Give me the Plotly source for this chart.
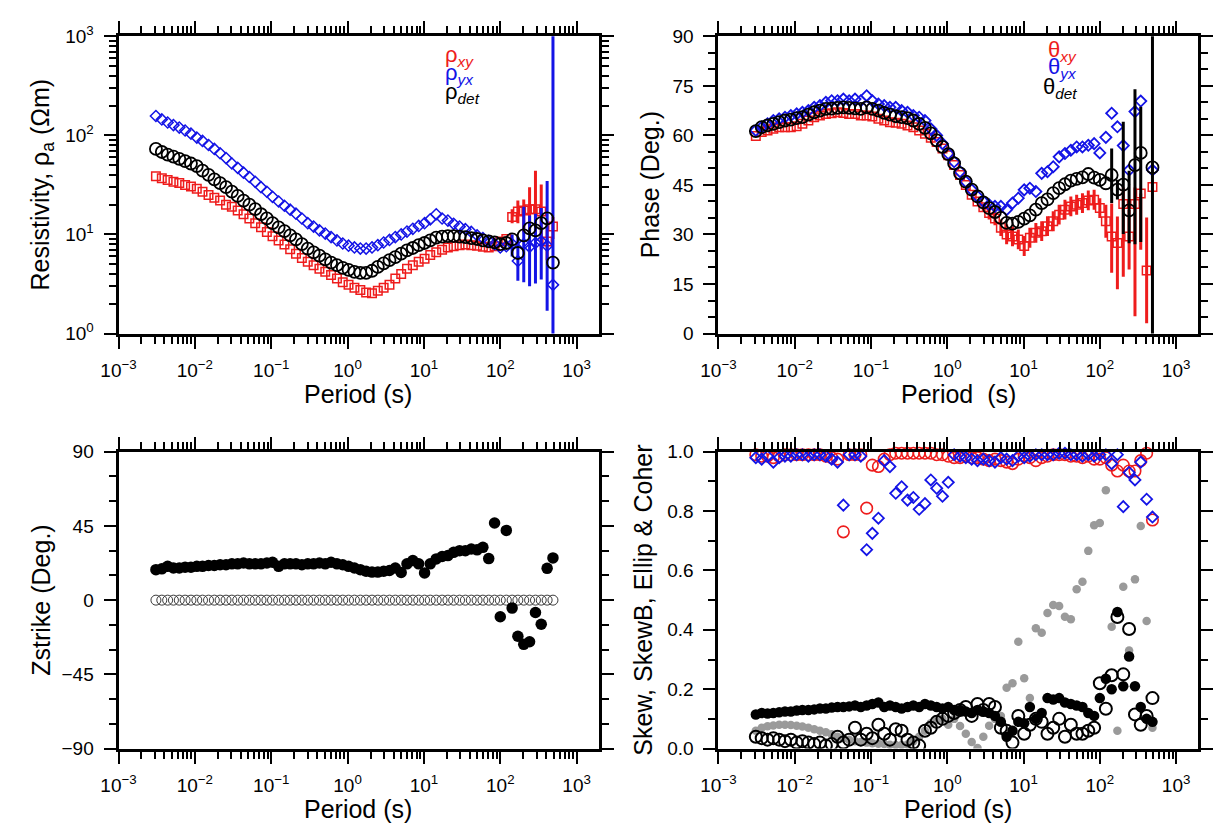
import plotly.graph_objects as go

# ---------------- data ----------------
period = [0.00309, 0.00369, 0.00440, 0.00524, 0.00625, 0.00745, 0.00889, 0.0106, 0.0126, 0.0151,
          0.0180, 0.0214, 0.0256, 0.0305, 0.0364, 0.0434, 0.0517, 0.0617, 0.0735, 0.0877,
          0.104, 0.125, 0.149, 0.177, 0.211, 0.252, 0.301, 0.359, 0.428, 0.510,
          0.608, 0.726, 0.865, 1.03, 1.23, 1.47, 1.75, 2.09, 2.49, 2.97,
          3.54, 4.22, 5.04, 6.00, 7.16, 8.54, 10.2, 12.1, 14.5, 17.3,
          20.6, 24.5, 29.3, 34.9, 41.7, 49.7, 59.2, 70.6, 84.2, 100,
          120, 143, 170, 203, 242, 289, 344, 411, 490]

rho_xy = [38.7, 37, 35.5, 34, 33, 31.5, 30.5, 29, 27, 25,
          23.5, 22, 20, 19, 17.5, 16, 14.5, 13, 11.8, 10.6,
          9.6, 8.7, 7.9, 7.1, 6.4, 5.8, 5.3, 4.9, 4.5, 4.2,
          3.9, 3.6, 3.3, 3.1, 2.9, 2.75, 2.6, 2.55, 2.7, 2.9,
          3.1, 3.6, 4.0, 4.5, 4.9, 5.3, 5.7, 6.2, 6.6, 7.0,
          7.4, 7.6, 7.8, 7.9, 7.8, 7.7, 7.5, 7.4, 7.6, 8.5,
          9.0, 15, 17, 17.5, 18, 18, 17, 8.5, 12]
rho_xy_hi = [0, 0, 0, 0, 0, 0, 0, 0, 0, 0,
             0, 0, 0, 0, 0, 0, 0, 0, 0, 0,
             0, 0, 0, 0, 0, 0, 0, 0, 0, 0,
             0, 0, 0, 0, 0, 0, 0, 0, 0, 0,
             0, 0, 0, 0, 0, 0, 0, 0, 0, 0,
             0, 0, 0, 0, 0, 0, 0, 0, 0, 0,
             0, 3, 5, 5, 12, 26, 15, 4, 3]
rho_xy_lo = [0, 0, 0, 0, 0, 0, 0, 0, 0, 0,
             0, 0, 0, 0, 0, 0, 0, 0, 0, 0,
             0, 0, 0, 0, 0, 0, 0, 0, 0, 0,
             0, 0, 0, 0, 0, 0, 0, 0, 0, 0,
             0, 0, 0, 0, 0, 0, 0, 0, 0, 0,
             0, 0, 0, 0, 0, 0, 0, 0, 0, 0,
             0, 2, 4, 7, 7, 8, 10, 3, 3]

rho_yx = [157, 145, 135, 127, 120, 112, 104, 95, 88, 80,
          73, 66, 59, 52, 47, 42, 38, 34, 30, 27,
          24, 21.5, 19.5, 17.8, 16.2, 14.5, 13, 12, 11, 10.2,
          9.4, 8.7, 8.1, 7.7, 7.4, 7.2, 7.2, 7.4, 7.8, 8.3,
          8.8, 9.4, 10, 10.7, 11.4, 12.2, 13, 14.2, 16, 14.5,
          13.8, 12.8, 12, 11.3, 10.6, 9.8, 9.2, 8.6, 8.0, 7.4,
          7.6, 8.0, 5.4, 8.0, 7.5, 8.2, 8.5, 7.7, 3.1]
rho_yx_hi = [0, 0, 0, 0, 0, 0, 0, 0, 0, 0,
             0, 0, 0, 0, 0, 0, 0, 0, 0, 0,
             0, 0, 0, 0, 0, 0, 0, 0, 0, 0,
             0, 0, 0, 0, 0, 0, 0, 0, 0, 0,
             0, 0, 0, 0, 0, 0, 0, 0, 0, 0,
             0, 0, 0, 0, 0, 0, 0, 0, 0, 0,
             0, 2, 4, 11, 8, 8, 10, 27, 5000]
rho_yx_lo = [0, 0, 0, 0, 0, 0, 0, 0, 0, 0,
             0, 0, 0, 0, 0, 0, 0, 0, 0, 0,
             0, 0, 0, 0, 0, 0, 0, 0, 0, 0,
             0, 0, 0, 0, 0, 0, 0, 0, 0, 0,
             0, 0, 0, 0, 0, 0, 0, 0, 0, 0,
             0, 0, 0, 0, 0, 0, 0, 0, 0, 0,
             0, 2, 2, 4.7, 4.5, 5, 5, 6, 3.09]

rho_det = [73, 68, 64, 61, 58, 55, 52, 49, 44, 40,
           36, 33, 30, 27, 24.5, 22, 20, 18, 16, 14.5,
           13, 11.8, 10.8, 9.8, 8.9, 8.0, 7.2, 6.6, 6.1, 5.6,
           5.2, 4.9, 4.6, 4.4, 4.2, 4.1, 4.1, 4.3, 4.7, 5.1,
           5.5, 5.9, 6.4, 6.9, 7.3, 7.8, 8.2, 8.7, 9.3, 9.5,
           9.6, 9.6, 9.5, 9.4, 9.2, 9.0, 8.7, 8.5, 8.3, 8.0,
           8.2, 8.9, 6.5, 9.8, 11.5, 11.0, 13, 14.5, 5.2]

phase_xy = [59.8, 61, 61.5, 62, 62.5, 62.5, 62.5, 62.8, 63.5, 64.5,
            65.5, 66, 66.5, 66.7, 67, 66.8, 66.5, 66.5, 66, 66,
            65.7, 65, 64.5, 64, 63.8, 63.5, 63, 62.5, 61.5, 60.5,
            59.3, 58, 56, 54, 51, 48, 45, 42, 40, 38.2,
            36.5, 34.8, 32, 30, 29.4, 28.5, 26.5, 29, 30.5, 31,
            32.5, 34, 36, 37.5, 38.5, 39, 39.5, 40.3, 40.5, 38,
            34, 29.4, 27.4, 39.2, 29.4, 39.2, 42.4, 19.1, 44.4]
phase_xy_hi = [0, 0, 0, 0, 0, 0, 0, 0, 0, 0,
               0, 0, 0, 0, 0, 0, 0, 0, 0, 0,
               0, 0, 0, 0, 0, 0, 0, 0, 0, 0,
               0, 0, 0, 0, 0, 0, 0, 0, 0, 1,
               2, 2, 2.5, 3, 3, 3, 3, 3, 3, 3,
               3, 3, 3, 3, 3, 3, 3, 3, 3, 3,
               5, 10, 8, 5, 8, 5, 0, 16, 0]
phase_xy_lo = [0, 0, 0, 0, 0, 0, 0, 0, 0, 0,
               0, 0, 0, 0, 0, 0, 0, 0, 0, 0,
               0, 0, 0, 0, 0, 0, 0, 0, 0, 0,
               0, 0, 0, 0, 0, 0, 0, 0, 0, 1,
               2, 2, 2.5, 3, 3, 3, 3, 3, 3, 3,
               3, 3, 3, 3, 3, 3, 3, 3, 3, 3,
               5, 11, 14, 22, 10, 34, 17, 16, 0]

phase_yx = [61.5, 62.5, 63.5, 64.5, 65, 65.5, 66, 66.5, 67, 67.5,
            68.5, 69, 70, 70.5, 70.5, 71, 70.5, 71, 70.5, 72,
            70.5, 69.5, 69, 68.5, 68.5, 67.5, 67, 66, 65.5, 64.5,
            62, 60, 57.5, 54.5, 52, 49, 46, 43.5, 41.5, 40,
            39, 38.5, 38.5, 37.5, 39.5, 41, 43.5, 44, 43, 48.5,
            49, 50.5, 53.5, 54.5, 55.5, 56.5, 56.5, 57, 57.5, 54.7,
            59.4, 66.7, 62.6, 56.9, 49.5, 67.2, 70.4, None, 49.5]

phase_det = [61.3, 62.5, 63, 63.5, 64, 64.5, 64.8, 65.2, 65.5, 66.3,
             67, 67.5, 68, 68.1, 68.3, 68.5, 68.3, 68.2, 68, 68.5,
             68, 67.5, 66.8, 66.3, 65.8, 65.5, 65.2, 64.5, 63.5, 62.3,
             60.6, 58.5, 56.5, 54.3, 51.5, 48.5, 46, 43.6, 41.5, 39.7,
             38, 36.8, 35, 33.5, 33.3, 33.8, 34.8, 35.8, 37.5, 39.5,
             40.6, 42.5, 44, 45.2, 46.3, 46.8, 47.3, 48.3, 47.2, 46.5,
             45.5, 48, 43.6, 45.1, 37.3, 51, 54.7, None, 50.3]
phase_det_hi = [0, 0, 0, 0, 0, 0, 0, 0, 0, 0,
                0, 0, 0, 0, 0, 0, 0, 0, 0, 0,
                0, 0, 0, 0, 0, 0, 0, 0, 0, 0,
                0, 0, 0, 0, 0, 0, 0, 0, 0, 0,
                0, 0, 0, 0, 0, 0, 0, 0, 0, 0,
                0, 0, 0, 0, 0, 0, 0, 0, 0, 0,
                0, 8, 3, 19, 12, 23, 14, 0, 100]
phase_det_lo = [0, 0, 0, 0, 0, 0, 0, 0, 0, 0,
                0, 0, 0, 0, 0, 0, 0, 0, 0, 0,
                0, 0, 0, 0, 0, 0, 0, 0, 0, 0,
                0, 0, 0, 0, 0, 0, 0, 0, 0, 0,
                0, 0, 0, 0, 0, 0, 0, 0, 0, 0,
                0, 0, 0, 0, 0, 0, 0, 0, 0, 0,
                0, 8.5, 3, 15, 10, 24, 27, 0, 100]

strike = [18.5, 19, 20.5, 19.5, 19.5, 20, 20, 20.5, 20.5, 21,
          21, 21.5, 21.5, 22, 22, 22.5, 22, 22, 22, 22.5,
          23, 20.5, 22, 22, 22, 21.5, 22, 22, 22.5, 22,
          23, 22, 21.5, 20.5, 19.5, 18.5, 17.5, 17, 17, 17.5,
          18, 19.5, 16.8, 22, 24, 22, 16.5, 22, 25, 26.5,
          27, 29, 30, 30, 31, 30.5, 32, 25.2, 46.8, -10.1,
          42.3, -4.8, -21.9, -26.8, -25.2, -7.5, -14.6, 19.3, 25.6]
strike_ref = [0, 0, 0, 0, 0, 0, 0, 0, 0, 0,
              0, 0, 0, 0, 0, 0, 0, 0, 0, 0,
              0, 0, 0, 0, 0, 0, 0, 0, 0, 0,
              0, 0, 0, 0, 0, 0, 0, 0, 0, 0,
              0, 0, 0, 0, 0, 0, 0, 0, 0, 0,
              0, 0, 0, 0, 0, 0, 0, 0, 0, 0,
              0, 0, 0, 0, 0, 0, 0, 0, 0]

coher_xy = [0.99, 0.985, 0.985, 0.98, 0.985, 0.99, 0.99, 0.99, 0.99, 0.99,
            0.99, 0.99, 0.985, 0.98, 0.975, 0.73, 0.99, 0.99, 0.99, 0.81,
            0.955, 0.95, 0.975, 0.99, 0.995, 0.995, 0.995, 0.995, 0.995, 0.995,
            0.995, 0.99, 0.99, 0.985, 0.98, 0.98, 0.985, 0.98, 0.98, 0.975,
            0.97, 0.975, 0.97, 0.965, 0.96, 0.975, 0.985, 0.98, 0.97, 0.98,
            0.985, 0.99, 0.99, 0.99, 0.985, 0.985, 0.98, 0.985, 0.975, 0.975,
            0.98, 0.955, 0.935, 0.955, 0.935, 0.935, 0.97, 0.995, 0.77]
coher_yx = [0.98, 0.975, 0.985, 0.965, 0.98, 0.985, 0.985, 0.99, 0.99, 0.985,
            0.99, 0.99, 0.985, 0.975, 0.965, 0.82, 0.99, 0.99, 0.985, 0.67,
            0.725, 0.776, 0.97, 0.95, 0.86, 0.882, 0.837, 0.846, 0.806, 0.825,
            0.905, 0.877, 0.85, 0.897, 0.99, 0.985, 0.98, 0.975, 0.97, 0.975,
            0.97, 0.965, 0.98, 0.975, 0.97, 0.985, 0.98, 0.985, 0.99, 0.99,
            0.99, 0.99, 0.995, 0.995, 0.99, 0.99, 0.985, 0.99, 0.985, 0.99,
            0.99, 0.96, 0.99, 0.815, 0.93, 0.905, 0.965, 0.84, 0.78]
ellip = [0.06, 0.07, 0.075, 0.078, 0.08, 0.08, 0.079, 0.077, 0.074, 0.07,
         0.065, 0.06, 0.055, 0.048, 0.04, 0.035, 0.03, 0.025, 0.022, 0.02,
         0.018, 0.016, 0.015, 0.013, 0.012, 0.012, 0.014, 0.025, 0.04, 0.06,
         0.085, 0.095, 0.1, 0.08, 0.1, 0.076, 0.05, 0.022, 0.002, 0.04,
         0.077, 0.1, 0.11, 0.205, 0.22, 0.36, 0.237, 0.17, 0.405, 0.39,
         0.457, 0.484, 0.48, 0.444, 0.436, 0.537, 0.562, 0.666, 0.752, 0.76,
         0.87, 0.41, 0.06, 0.545, 0.33, 0.57, 0.75, 0.43, 0.07]
skew = [0.115, 0.12, 0.118, 0.12, 0.122, 0.125, 0.125, 0.128, 0.13, 0.13,
        0.132, 0.135, 0.135, 0.138, 0.14, 0.14, 0.142, 0.145, 0.14, 0.145,
        0.15, 0.155, 0.14, 0.145, 0.14, 0.135, 0.14, 0.145, 0.14, 0.15,
        0.145, 0.14, 0.135, 0.14, 0.13, 0.13, 0.125, 0.12, 0.13, 0.125,
        0.12, 0.11, 0.09, 0.04, 0.06, 0.09, 0.085, 0.14, 0.1, 0.12,
        0.17, 0.165, 0.17, 0.155, 0.15, 0.145, 0.14, 0.12, 0.11, 0.17,
        0.235, 0.2, 0.46, 0.21, 0.31, 0.21, 0.14, 0.1, 0.09]
skewb = [0.04, 0.035, 0.03, 0.035, 0.03, 0.025, 0.03, 0.02, 0.025, 0.02,
         0.015, 0.02, 0.01, 0.015, 0.04, 0.02, 0.03, 0.07, 0.03, 0.05,
         0.035, 0.08, 0.05, 0.03, 0.065, 0.06, 0.03, 0.02, 0.01, 0.06,
         0.07, 0.09, 0.1, 0.11, 0.12, 0.13, 0.14, 0.11, 0.15, 0.13,
         0.15, 0.14, 0.07, 0.06, 0.02, 0.11, 0.05, 0.08, 0.1, 0.09,
         0.05, 0.07, 0.1, 0.04, 0.08, 0.05, 0.05, 0.06, 0.07, 0.22,
         0.134, 0.247, 0.443, 0.25, 0.403, 0.115, 0.08, 0.11, 0.17]

x_tick_vals = [0.001, 0.01, 0.1, 1, 10, 100, 1000]
x_tick_text = ["10<sup>\u22123</sup>", "10<sup>\u22122</sup>", "10<sup>\u22121</sup>",
               "10<sup>0</sup>", "10<sup>1</sup>", "10<sup>2</sup>", "10<sup>3</sup>"]
rho_tick_vals = [1, 10, 100, 1000]
rho_tick_text = ["10<sup>0</sup>", "10<sup>1</sup>", "10<sup>2</sup>", "10<sup>3</sup>"]

# ---------------- layout helpers ----------------
W, H = 1213, 836
FONT = "Liberation Sans, Arial, Helvetica, sans-serif"
RED = "#ee1c1c"
BLUE = "#1414e6"
GREY = "#9a9a9a"


def px(x):
    return x / W


def py(y):
    return 1 - y / H


def log_minor(lo, hi):
    vals = []
    for e in range(lo, hi):
        for m in range(2, 10):
            vals.append(m * 10 ** e)
    return vals


MINOR = dict(ticks="outside", ticklen=7, tickwidth=1.5, tickcolor="black", showgrid=False)
common = dict(showline=True, linewidth=3, linecolor="black", mirror="allticks",
              ticks="outside", ticklen=12, tickwidth=2, tickcolor="black",
              showgrid=False, zeroline=False, ticklabelstandoff=6,
              tickfont=dict(family=FONT, size=19, color="black"))


def xaxis(x0, x1, y_anchor):
    return dict(common, domain=[px(x0), px(x1)], anchor=y_anchor, type="log",
                range=[-3, 3.29], tickmode="array", tickvals=x_tick_vals, ticktext=x_tick_text,
                minor=dict(MINOR, tickmode="array", tickvals=log_minor(-3, 4)))


def yaxis_lin(y0, y1, x_anchor, rng, dtick, mdtick, fmt=None):
    d = dict(common, domain=[py(y1), py(y0)], anchor=x_anchor, range=rng,
             tickmode="linear", tick0=rng[0], dtick=dtick,
             minor=dict(MINOR, tickmode="linear", tick0=rng[0], dtick=mdtick))
    if fmt:
        d["tickformat"] = fmt
    return d


TOP = (24, 330)
BOT = (451.7, 757.3)
LEFT = (102.2, 590.5)
RIGHT = (712.2, 1200)

fig = go.Figure()


def add(xa, ya, y, symbol, size, color, lw=1.5, err=None, clip=True):
    marker = dict(symbol=symbol, size=size, color=color, line=dict(width=lw, color=color))
    kw = {}
    if err is not None:
        hi, lo, ecol = err
        kw["error_y"] = dict(type="data", symmetric=False, array=hi, arrayminus=lo,
                             color=ecol, thickness=3, width=0)
    fig.add_trace(go.Scatter(x=period, y=y, xaxis=xa, yaxis=ya, mode="markers",
                             marker=marker, showlegend=False, hoverinfo="skip",
                             cliponaxis=clip, **kw))


# resistivity
add("x", "y", rho_xy, "square-open", 8.5, RED, 1.5, (rho_xy_hi, rho_xy_lo, RED))
add("x", "y", rho_yx, "diamond-open", 8.5, BLUE, 1.5, (rho_yx_hi, rho_yx_lo, BLUE))
add("x", "y", rho_det, "circle-open", 12, "black", 1.8)

# phase
add("x2", "y2", phase_xy, "square-open", 8.5, RED, 1.5, (phase_xy_hi, phase_xy_lo, RED))
add("x2", "y2", phase_yx, "diamond-open", 8.5, BLUE, 1.8)
add("x2", "y2", phase_det, "circle-open", 12, "black", 1.8, (phase_det_hi, phase_det_lo, "black"))

# strike
add("x3", "y3", strike_ref, "circle-open", 10, "#3a3a3a", 1)
add("x3", "y3", strike, "circle", 11.5, "black", 0)

# skew / ellip / coherence
add("x4", "y4", coher_xy, "circle-open", 11.5, RED, 1.6, clip=False)
add("x4", "y4", coher_yx, "diamond-open", 8.5, BLUE, 1.8, clip=False)
add("x4", "y4", ellip, "circle", 8.5, GREY, 0)
add("x4", "y4", skew, "circle", 10.5, "black", 0)
add("x4", "y4", skewb, "circle-open", 12, "black", 2)

fig.update_layout(
    width=W, height=H, margin=dict(l=0, r=0, t=0, b=0),
    paper_bgcolor="white", plot_bgcolor="white",
    font=dict(family=FONT, color="black"),
    xaxis=xaxis(*LEFT, "y"),
    yaxis=dict(common, domain=[py(TOP[1]), py(TOP[0])], anchor="x", type="log", range=[0, 3],
               tickmode="array", tickvals=rho_tick_vals, ticktext=rho_tick_text,
               minor=dict(MINOR, tickmode="array", tickvals=log_minor(0, 3))),
    xaxis2=xaxis(*RIGHT, "y2"),
    yaxis2=yaxis_lin(TOP[0], TOP[1], "x2", [0, 90], 15, 5),
    xaxis3=xaxis(*LEFT, "y3"),
    yaxis3=yaxis_lin(BOT[0], BOT[1], "x3", [-90, 90], 45, 15),
    xaxis4=xaxis(*RIGHT, "y4"),
    yaxis4=yaxis_lin(BOT[0], BOT[1], "x4", [0, 1], 0.2, 0.1, ".1f"),
)

ann = []


def label(text, x, y, size=25, angle=0, color="black", xanchor="center"):
    ann.append(dict(text=text, x=px(x), y=py(y), xref="paper", yref="paper", showarrow=False,
                    textangle=angle, xanchor=xanchor, yanchor="middle",
                    font=dict(family=FONT, size=size, color=color)))


label("Resistivity, \u03c1<sub>a</sub> (\u03a9m)", 24, 177, angle=-90)
label("Phase (Deg.)", 643, 177, angle=-90)
label("Zstrike (Deg.)", 24, 604.5, angle=-90)
label("Skew, SkewB, Ellip &amp; Coher", 636, 604.5, angle=-90)
label("Period (s)", 346, 392)
label("Period \u00a0(s)", 956, 392)
label("Period (s)", 346, 820)
label("Period (s)", 956, 820)

label("\u03c1<sub><i>xy</i></sub>", 432, 44, size=22, color=RED, xanchor="left")
label("\u03c1<sub><i>yx</i></sub>", 432, 63, size=22, color=BLUE, xanchor="left")
label("\u03c1<sub><i>det</i></sub>", 432, 82, size=22, color="black", xanchor="left")
label("\u03b8<sub><i>xy</i></sub>", 1045, 39, size=22, color=RED, xanchor="left")
label("\u03b8<sub><i>yx</i></sub>", 1045, 57, size=22, color=BLUE, xanchor="left")
label("\u03b8<sub><i>det</i></sub>", 1040, 77, size=22, color="black", xanchor="left")

fig.update_layout(annotations=ann)
fig.write_html("out.html", config={"displayModeBar": False},
               post_script="document.body.style.margin='0px';")
